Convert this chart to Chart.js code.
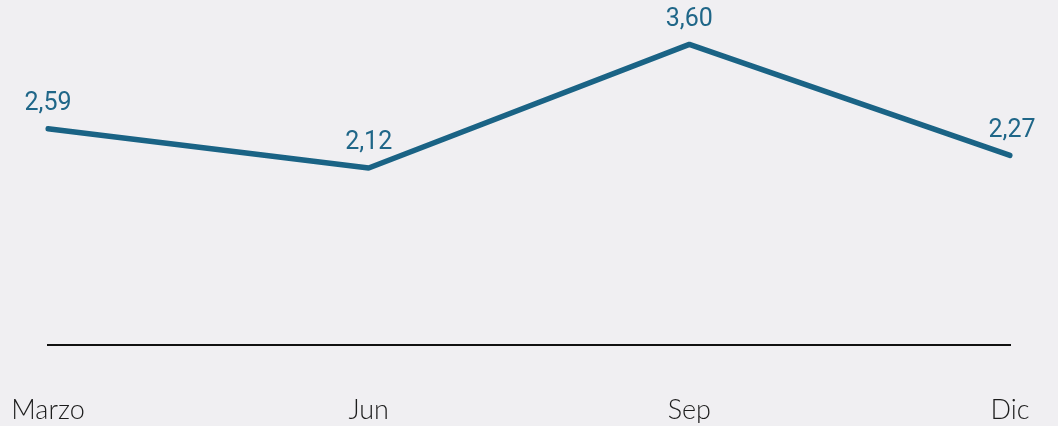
<!DOCTYPE html>
<html>
<head>
<meta charset="utf-8">
<script src="https://cdn.jsdelivr.net/npm/chart.js@4/dist/chart.umd.min.js"></script>
<style>
  html, body { margin: 0; padding: 0; background: #f0eff2; }
  #wrap { width: 1058px; height: 426px; position: relative; }
</style>
</head>
<body>
<div id="wrap"><canvas id="myChart"></canvas></div>
<script>
const labels = ['Marzo', 'Jun', 'Sep', 'Dic'];
const values = [2.59, 2.12, 3.60, 2.27];
const valueLabels = ['2,59', '2,12', '3,60', '2,27'];

const lineColor = '#1a6385';

// write the values above each point
const pointLabels = {
    id: 'pointLabels',
    afterDatasetsDraw(chart) {
        const c = chart.ctx;
        const meta = chart.getDatasetMeta(0);
        c.save();
        c.fillStyle = '#1f6688';
        c.font = '25px Roboto, "Liberation Sans", sans-serif';
        c.textAlign = 'center';
        c.textBaseline = 'middle';
        meta.data.forEach((pt, i) => {
            c.fillText(valueLabels[i], pt.x + (i === 3 ? 2 : 0), pt.y - 25);
        });
        c.restore();
    }
};

const ctx = document.getElementById('myChart');

let graphData = {
    type: 'line',
    data: {
        labels: labels,
        datasets: [{
            data: values,
            borderColor: lineColor,
            borderWidth: 5.5,
            borderCapStyle: 'round',
            borderJoinStyle: 'bevel',
            pointRadius: 0,
            tension: 0,
            fill: false
        }]
    },
    options: {
        responsive: true,
        maintainAspectRatio: false,
        animation: false,
        layout: { padding: { left: 48, right: 48, top: 11, bottom: 3 } },
        plugins: { legend: { display: false }, tooltip: { enabled: false } },
        scales: {
            x: {
                offset: false,
                grid: { display: false, drawTicks: false },
                border: { display: true, color: '#111', width: 2 },
                ticks: {
                    color: '#1c1c1c',
                    padding: 49,
                    maxRotation: 0,
                    font: { family: 'Lato, "Open Sans", sans-serif', size: 27, weight: '300' }
                },
                afterFit(scale) {
                    scale.height = 78;
                    scale.paddingLeft = 0;
                    scale.paddingRight = 0;
                }
            },
            y: {
                display: false,
                min: 0,
                max: 4
            }
        }
    },
    plugins: [pointLabels]
};

var myChart = new Chart(ctx, graphData);
</script>
</body>
</html>
